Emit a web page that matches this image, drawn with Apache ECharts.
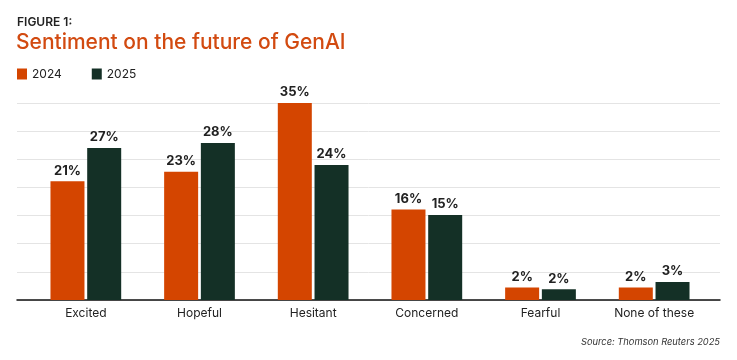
<!DOCTYPE html>
<html>
<head>
<meta charset="utf-8">
<script src="https://cdn.jsdelivr.net/npm/echarts@6/dist/echarts.min.js"></script>
<style>html,body{margin:0;padding:0;background:#fff;}#c{width:737px;height:360px;}</style>
</head>
<body>
<div id="c"></div>
<script>
const categories = ['Excited', 'Hopeful', 'Hesitant', 'Concerned', 'Fearful', 'None of these'];
const values2024 = [21.1, 22.8, 35, 16.1, 2.2, 2.2];
const values2025 = [27, 27.9, 24, 15.1, 1.9, 3.2];
const seriesNames = ['2024', '2025'];

const FONT = 'Inter, "Noto Sans", sans-serif';
const chart = echarts.init(document.getElementById('c'), null, {renderer: 'canvas'});
const labelStyle = {
  show: true, position: 'top', distance: 4,
  fontFamily: FONT, fontSize: 13, fontWeight: 'bold', color: '#222',
  formatter: p => Math.round(p.value) + '%'
};
chart.setOption({
  animation: false,
  backgroundColor: '#fff',
  title: [
    {text: 'FIGURE 1:', left: 12, top: 11, textStyle: {fontFamily: FONT, fontSize: 12, fontWeight: 600, color: '#222'}},
    {text: 'Sentiment on the future of GenAI', left: 11, top: 27, textStyle: {fontFamily: FONT, fontSize: 21, fontWeight: 500, color: '#d24a10'}},
    {text: 'Source: Thomson Reuters 2025', right: 12, top: 333, textStyle: {fontFamily: FONT, fontSize: 9.3, fontStyle: 'italic', fontWeight: 'normal', color: '#333'}}
  ],
  legend: {
    left: 12, top: 63, icon: 'rect', itemWidth: 10, itemHeight: 11, itemGap: 30,
    textStyle: {fontFamily: FONT, fontSize: 12, color: '#222'},
    data: seriesNames
  },
  grid: [
    {left: 17, right: 17, top: 103, bottom: 60},
    {left: 29, right: 26, top: 103, bottom: 60}
  ],
  xAxis: [
    {gridIndex: 0, type: 'category', data: [''], axisLine: {show: true, lineStyle: {color: '#111', width: 1.5}}, axisTick: {show: false}, axisLabel: {show: false}},
    {gridIndex: 1, type: 'category', data: categories, axisLine: {show: false}, axisTick: {show: false},
      axisLabel: {fontFamily: FONT, fontSize: 12, color: '#222', margin: 7}}
  ],
  yAxis: [
    {gridIndex: 0, type: 'value', min: 0, max: 35, interval: 5, axisLine: {show: false}, axisTick: {show: false}, axisLabel: {show: false},
      splitLine: {lineStyle: {color: '#e4e4e4', width: 1}}},
    {gridIndex: 1, type: 'value', min: 0, max: 35, interval: 5, show: false, splitLine: {show: false}}
  ],
  series: [
    {name: seriesNames[0], type: 'bar', xAxisIndex: 1, yAxisIndex: 1, data: values2024, barWidth: 34, barGap: '8%',
      itemStyle: {color: '#d44500'}, label: labelStyle},
    {name: seriesNames[1], type: 'bar', xAxisIndex: 1, yAxisIndex: 1, data: values2025, barWidth: 34, barGap: '8%',
      itemStyle: {color: '#143026'}, label: labelStyle}
  ]
});
</script>
</body>
</html>
